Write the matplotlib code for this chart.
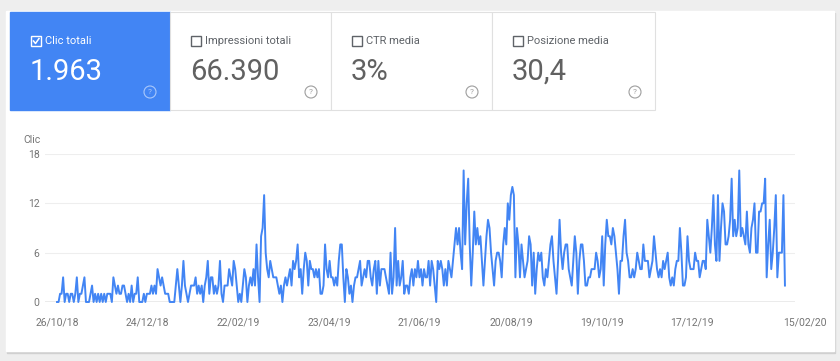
import matplotlib.pyplot as plt
from matplotlib.patches import Rectangle, Circle
import pandas as pd

plt.rcParams['font.family'] = ['Roboto', 'DejaVu Sans']

# clic giornalieri (dal 26/10/2018)
start_date = '2018-10-26'
clic_ott_dic18 = [0, 0, 1, 1, 3, 0, 1, 1, 0, 1, 1, 0, 1, 3, 0, 1, 1, 2, 3, 0,
                  0, 0, 1, 2, 0, 1, 0, 1, 0, 1, 0, 1, 0, 1, 1, 1, 0, 3, 2, 1,
                  2, 1, 1, 2, 2, 1, 0, 1, 0, 2, 0, 1, 1, 3, 0, 0, 0, 1, 0, 1,
                  1, 1, 2, 1, 2, 1, 4, 3, 2, 3, 2, 1, 1, 1, 0, 0, 0]
clic_gen_mar19 = [0, 2, 4, 2, 0, 2, 5, 2, 1, 0, 1, 2, 2, 2, 3, 1, 2, 1, 2, 0,
                  2, 3, 5, 1, 3, 3, 1, 2, 1, 2, 5, 1, 0, 2, 2, 2, 4, 3, 2, 5,
                  4, 2, 0, 1, 0, 2, 4, 3, 0, 2, 3, 2, 4, 2, 7, 3, 0, 8, 9, 13,
                  6, 4, 3, 5, 4, 3, 3, 3, 2, 1, 2, 0, 2, 3, 2, 3, 4, 2, 5, 4, 5]
clic_apr_giu19 = [7, 3, 4, 1, 4, 6, 5, 2, 5, 4, 4, 3, 4, 3, 4, 1, 1, 2, 7, 4,
                  3, 5, 3, 3, 2, 3, 2, 5, 7, 7, 3, 0, 4, 3, 1, 2, 0, 2, 3, 3,
                  4, 5, 2, 3, 4, 3, 5, 5, 3, 2, 4, 5, 1, 5, 2, 4, 4, 4, 3, 2,
                  1, 6, 1, 3, 9, 2, 5, 2, 3, 5, 1, 2, 2, 1, 3, 4, 2, 4, 3, 5]
clic_giu_set19 = [3, 4, 2, 4, 3, 3, 5, 2, 5, 4, 2, 0, 5, 4, 5, 4, 2, 4, 2, 5,
                  4, 3, 5, 7, 9, 7, 9, 6, 4, 16, 7, 12, 15, 7, 2, 6, 11, 7, 9, 7,
                  8, 5, 2, 5, 8, 10, 9, 6, 4, 2, 5, 6, 6, 5, 3, 7, 9, 7, 12, 10,
                  13, 14, 13, 3, 9, 7, 3, 7, 5, 3, 4, 5, 8, 7, 2, 6, 1, 4, 6, 5]
clic_set_nov19 = [6, 3, 2, 4, 3, 5, 7, 8, 5, 3, 1, 5, 10, 6, 4, 6, 7, 7, 4, 3,
                  2, 5, 8, 6, 1, 5, 7, 7, 5, 2, 2, 3, 3, 4, 4, 4, 6, 5, 3, 4,
                  8, 2, 7, 10, 8, 8, 7, 9, 8, 6, 4, 1, 5, 5, 8, 10, 6, 5, 3, 3,
                  4, 3, 4, 6, 5, 4, 4, 7, 5, 5, 5, 3, 4, 5, 8, 6, 4, 3, 4, 3]
clic_nov19_feb20 = [5, 4, 5, 6, 3, 2, 3, 2, 4, 5, 5, 9, 6, 2, 2, 3, 8, 5, 4, 4,
                    4, 6, 5, 5, 3, 4, 5, 5, 4, 10, 8, 6, 9, 13, 7, 5, 13, 5, 9, 12,
                    11, 7, 7, 8, 10, 15, 8, 10, 8, 9, 16, 8, 9, 8, 7, 11, 7, 6, 9, 10,
                    12, 6, 6, 11, 11, 12, 12, 15, 3, 7, 10, 4, 6, 9, 13, 3, 6, 6, 6, 13, 2]

metric_labels = ['Clic totali', 'Impressioni totali', 'CTR media', 'Posizione media']
metric_values = ['1.963', '66.390', '3%', '30,4']
tick_dates = ['2018-10-26', '2018-12-24', '2019-02-22', '2019-04-23', '2019-06-21',
              '2019-08-20', '2019-10-19', '2019-12-17', '2020-02-15']
y_ticks = [0, 6, 12, 18]

clicks = (clic_ott_dic18 + clic_gen_mar19 + clic_apr_giu19 + clic_giu_set19
          + clic_set_nov19 + clic_nov19_feb20)
days = pd.date_range(start_date, periods=len(clicks), freq='D')

fig = plt.figure(figsize=(8.4, 3.61), dpi=100)
fig.patch.set_facecolor('#eeeeee')

# livello di sfondo in pixel
bg = fig.add_axes([0, 0, 1, 1])
bg.set_xlim(0, 840)
bg.set_ylim(361, 0)
bg.axis('off')
bg.add_patch(Rectangle((7, 13), 828, 340, color='#d0d0d0'))
bg.add_patch(Rectangle((6, 11), 828, 340, color='white'))

edges = [10, 170, 331, 492, 655]
for i, (lab, val) in enumerate(zip(metric_labels, metric_values)):
    x0, x1 = edges[i], edges[i + 1]
    sel = i == 0
    if sel:
        bg.add_patch(Rectangle((x0, 12), x1 - x0, 98, color='#4285f4'))
        fg, num_c, help_c = 'white', 'white', '#a9c8fb'
    else:
        bg.add_patch(Rectangle((x0, 12), x1 - x0, 98, facecolor='white',
                               edgecolor='#e0e0e0', lw=0.8))
        fg, num_c, help_c = '#5f6368', '#616161', '#9e9e9e'
    bg.add_patch(Rectangle((x0 + 21, 36), 10, 10, fill=False, edgecolor=fg, lw=1))
    if sel:
        bg.plot([x0 + 23.5, x0 + 25.5, x0 + 29], [41, 43.5, 38.5], color='white', lw=1.1)
    bg.text(x0 + 35, 41, lab, color=fg, fontsize=8, va='center')
    bg.text(x0 + 20, 72, val, color=num_c, fontsize=21, va='center')
    bg.add_patch(Circle((x1 - 20, 92), 6, fill=False, edgecolor=help_c, lw=0.8))
    bg.text(x1 - 20, 92.5, '?', color=help_c, fontsize=6, ha='center', va='center')

# grafico
ax = fig.add_axes([45 / 840, 1 - 302 / 361, 750 / 840, 148 / 361])
ax.patch.set_alpha(0)
ax.plot(days, clicks, color='#4285f4', lw=1.4, clip_on=False, zorder=3)
ax.set_ylim(0, 18)
ax.set_xlim(days[0] - pd.Timedelta(days=7.9), days[-1] + pd.Timedelta(days=6.6))
ax.set_yticks(y_ticks)
ax.yaxis.grid(True, color='#eeeeee', lw=0.8)
ax.axhline(0, color='#9e9e9e', lw=1, zorder=2)
ticks = pd.to_datetime(tick_dates)
ax.set_xticks(ticks)
ax.set_xticklabels([t.strftime('%d/%m/%y') for t in ticks])
ax.get_xticklabels()[-1].set_horizontalalignment('left')
ax.tick_params(axis='x', length=0, pad=11, labelsize=7.5, labelcolor='#757575')
ax.tick_params(axis='y', length=0, pad=4, labelsize=7.5, labelcolor='#757575')
for s in ax.spines.values():
    s.set_visible(False)
fig.text(23 / 840, 1 - 140 / 361, 'Clic', fontsize=7.5, color='#757575', va='center')

plt.savefig('out.png', dpi=100, facecolor=fig.get_facecolor())
